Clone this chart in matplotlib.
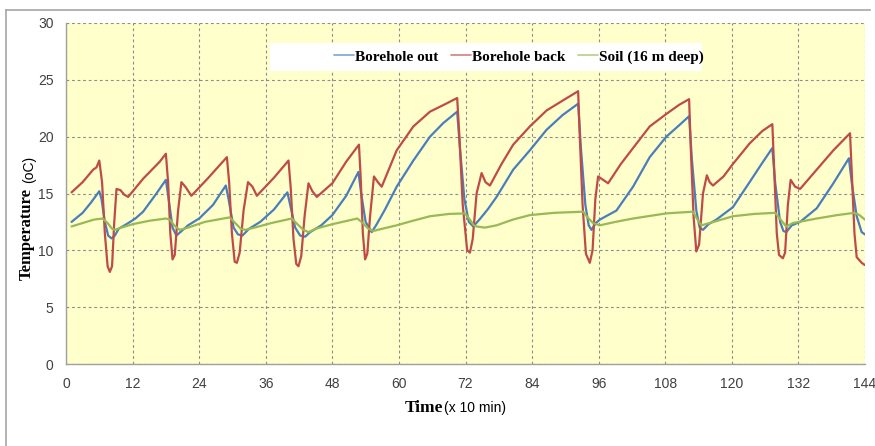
import matplotlib
matplotlib.use('Agg')
import matplotlib.pyplot as plt
from matplotlib.lines import Line2D
from matplotlib.patches import Rectangle

# ---- data (time in x 10 min, temperature in oC) ----
back_t = [1, 3, 4.9, 5.5, 6.0, 6.5, 7.0, 7.5, 7.9, 8.3, 8.7, 9.1, 9.8, 10.5, 11.2,
          13.9, 16.9, 18.0, 18.4, 18.8, 19.2, 19.6, 20.2, 20.8, 21.5, 22.6,
          25.5, 29.0, 29.4, 29.9, 30.4, 30.8, 31.3, 32.0, 32.8, 33.6, 34.4,
          37.5, 40.1, 40.5, 41.0, 41.5, 41.9, 42.4, 43.0, 43.7, 44.4, 45.2,
          48, 50.5, 52.8, 53.1, 53.5, 53.9, 54.3, 54.8, 55.5, 56.2, 56.9,
          59.6, 62.6, 65.6, 68.5, 70.5, 70.9, 71.5, 72.3, 72.8, 73.3, 74.0, 74.9, 75.6, 76.4,
          78.5, 80.6, 83.6, 86.6, 89.6, 92.3, 92.6, 93.1, 93.7, 94.4, 94.9, 95.4, 95.9, 96.8, 97.7,
          100, 102.2, 105.2, 108.2, 110.5, 112.3, 112.6, 113.1, 113.6, 114.1, 114.8, 115.5, 116.0, 116.6,
          118.5, 120.2, 123.2, 125.5, 127.3, 127.6, 128.1, 128.5, 129.2, 129.6, 130.1, 130.6, 131.4, 132.3,
          135.3, 138.3, 141.3, 141.6, 142.1, 142.5, 143.4, 144]
back_v = [15.1, 16.0, 17.1, 17.3, 17.9, 16.0, 11.5, 8.6, 8.1, 8.6, 12.5, 15.4, 15.3, 14.9, 14.7,
          16.3, 17.8, 18.5, 16.0, 11.5, 9.2, 9.6, 13.5, 16.0, 15.6, 14.8,
          16.3, 18.2, 16.0, 11.5, 9.0, 8.9, 9.8, 13.5, 16.0, 15.6, 14.8,
          16.4, 17.9, 15.5, 11.0, 8.8, 8.6, 9.5, 13.0, 15.9, 15.2, 14.7,
          15.9, 17.8, 19.3, 16.5, 11.5, 9.2, 9.7, 13.0, 16.5, 16.0, 15.6,
          18.8, 20.9, 22.2, 22.9, 23.4, 20.0, 14.0, 10.0, 9.8, 11.0, 15.0, 16.8, 16.0, 15.7,
          17.6, 19.3, 20.9, 22.3, 23.2, 24.0, 20.0, 14.0, 9.7, 8.9, 10.0, 14.5, 16.5, 16.2, 15.9,
          17.6, 19.0, 20.9, 22.0, 22.8, 23.3, 19.0, 13.0, 9.9, 10.5, 15.0, 16.6, 16.0, 15.7,
          16.5, 17.6, 19.4, 20.5, 21.1, 17.5, 11.5, 9.6, 9.3, 9.8, 14.0, 16.2, 15.6, 15.4,
          17.1, 18.8, 20.3, 17.0, 11.5, 9.4, 8.9, 8.7]

out_t = [1, 3, 4.5, 6.0, 6.4, 7.0, 7.6, 8.2, 8.8, 9.5, 10.9, 12.5, 13.9, 16.3,
         18.0, 18.5, 19.2, 19.9, 20.6, 22.0, 24, 26.5,
         28.8, 29.3, 30.2, 31.0, 31.8, 33, 35, 37.5,
         39.9, 40.4, 41.3, 42.2, 43.1, 44, 46, 48, 50.5,
         52.7, 53.2, 54.0, 55.1, 56, 57.5, 59.6, 62.6, 65.6, 68,
         70.5, 71.0, 71.8, 72.6, 73.4, 74.5, 76, 77.6, 80.6, 83.6, 86.6, 89.5,
         92.3, 92.8, 93.6, 94.2, 94.7, 95.5, 96.2, 99.2, 102.2, 105.2, 108.2, 110.5,
         112.3, 112.8, 113.6, 114.2, 114.8, 115.8, 117.2, 120.2, 123.2, 125.5,
         127.3, 127.8, 128.7, 129.3, 129.8, 130.8, 132.3, 135.3, 138.3,
         141.1, 141.6, 142.5, 143.4, 144]
out_v = [12.5, 13.3, 14.2, 15.2, 14.5, 12.5, 11.3, 11.05, 11.3, 11.9, 12.3, 12.8, 13.4, 15.0,
         16.2, 14.5, 12.0, 11.3, 11.6, 12.2, 12.8, 14.0,
         15.7, 14.5, 12.0, 11.4, 11.3, 11.9, 12.5, 13.6,
         15.1, 14.0, 12.0, 11.3, 11.2, 11.6, 12.2, 13.1, 14.8,
         16.9, 15.0, 12.5, 11.6, 12.3, 13.6, 15.6, 17.9, 20.0, 21.2,
         22.2, 19.0, 14.5, 12.5, 12.1, 12.7, 13.6, 14.7, 17.1, 18.8, 20.6, 21.9,
         22.9, 19.0, 14.0, 12.2, 11.8, 12.4, 12.7, 13.5, 15.6, 18.2, 20.0, 21.0,
         21.8, 18.0, 13.5, 12.0, 11.8, 12.3, 12.7, 13.8, 16.0, 17.7,
         19.0, 16.0, 12.5, 11.7, 11.6, 12.2, 12.5, 13.7, 15.9,
         18.1, 16.0, 13.0, 11.6, 11.4]

soil_t = [1, 3, 5, 6.6, 7.5, 8.3, 8.8, 10, 12, 15, 18.0, 18.7, 19.5, 20.5, 22, 25,
          29.5, 30.5, 31.5, 32.3, 34, 37, 40.7, 41.7, 42.8, 43.7, 45, 48,
          52.5, 53.5, 54.5, 55.4, 57, 59.6, 62.5, 65.6, 69, 71.9, 72.8, 73.5, 74, 75.5,
          77.6, 80.5, 83.6, 88, 93.2, 94, 95, 96.2, 99, 102.2, 108.2, 113, 113.7, 114.5,
          116, 120.2, 124, 127.8, 128.8, 129.8, 131, 135.3, 139, 142.1, 143, 144]
soil_v = [12.1, 12.4, 12.7, 12.8, 12.4, 11.9, 11.8, 12.0, 12.3, 12.6, 12.8, 12.7, 12.2, 11.8, 12.0, 12.5,
          12.9, 12.4, 11.9, 11.8, 12.0, 12.4, 12.8, 12.3, 11.8, 11.6, 11.9, 12.3,
          12.8, 12.4, 11.9, 11.7, 11.9, 12.2, 12.6, 13.0, 13.2, 13.25, 12.7, 12.2, 12.1, 12.0,
          12.2, 12.7, 13.1, 13.3, 13.4, 12.9, 12.4, 12.2, 12.5, 12.8, 13.25, 13.4, 12.8, 12.2,
          12.4, 13.0, 13.2, 13.3, 12.7, 12.1, 12.4, 12.8, 13.1, 13.3, 13.1, 12.7]

x_ticks = [0, 12, 24, 36, 48, 60, 72, 84, 96, 108, 120, 132, 144]
y_ticks = [0, 5, 10, 15, 20, 25, 30]

W, H = 875, 446
narrow = ['Liberation Sans Narrow', 'Liberation Sans', 'DejaVu Sans']
serif = ['Liberation Serif', 'DejaVu Serif']


def fx(px):
    return px / W


def fy(py):
    return 1 - py / H


fig = plt.figure(figsize=(W / 100, H / 100), dpi=100)
fig.patch.set_facecolor('white')
ax = fig.add_axes([fx(66), fy(364), (865 - 66) / W, (364 - 23) / H])
ax.set_facecolor('#FFFFCC')

style = dict(lw=1.6, solid_joinstyle='round', solid_capstyle='round')
l_out, = ax.plot(out_t, out_v, color='#4A7EBB', label='Borehole out', zorder=3, **style)
l_back, = ax.plot(back_t, back_v, color='#BE4B48', label='Borehole back', zorder=4, **style)
l_soil, = ax.plot(soil_t, soil_v, color='#98B954', label='Soil (16 m deep)', zorder=5, **style)

ax.set_xlim(0, 144)
ax.set_ylim(0, 30)
ax.set_xticks(x_ticks)
ax.set_yticks(y_ticks)
ax.grid(True, color='#8c8c8c', lw=0.8, linestyle=(0, (2.5, 2.5)))
ax.tick_params(length=0, labelsize=10, colors='#404040', pad=9)
for lab in ax.get_xticklabels() + ax.get_yticklabels():
    lab.set_family(narrow)
for s in ['top', 'right']:
    ax.spines[s].set_visible(False)
for s in ['left', 'bottom']:
    ax.spines[s].set_color('#a0a0a0')
    ax.spines[s].set_linewidth(1.0)

# axis labels (mixed fonts)
fig.text(fx(443), fy(408), 'Time', ha='right', va='center', fontsize=12.5,
         fontweight='bold', family=serif)
fig.text(fx(444), fy(408), '(x 10 min)', ha='left', va='center', fontsize=10,
         family=narrow)
fig.text(fx(27), fy(280), 'Temperature', rotation=90, ha='center', va='bottom',
         fontsize=12, fontweight='bold', family=serif)
fig.text(fx(29), fy(183), '(oC)', rotation=90, ha='center', va='bottom',
         fontsize=10, family=narrow)

# legend on a white strip
fig.patches.append(Rectangle((fx(270), fy(71)), (702 - 270) / W, (71 - 43) / H,
                             transform=fig.transFigure, facecolor='white',
                             edgecolor='none', zorder=6))
leg = fig.legend(handles=[l_out, l_back, l_soil], loc='center left',
                 bbox_to_anchor=(fx(334), fy(57)), ncol=3, frameon=False,
                 handlelength=1.3, handletextpad=0.1, columnspacing=0.8,
                 borderpad=0, borderaxespad=0,
                 prop={'family': serif, 'weight': 'bold', 'size': 11})
leg.set_zorder(7)
for ln in leg.get_lines():
    ln.set_linewidth(1.2)
    ln.set_alpha(0.7)

# outer frame of the chart
fig.lines.append(Line2D([fx(6), fx(870)], [fy(10), fy(10)], transform=fig.transFigure,
                        color='#a6a6a6', lw=1.2))
fig.lines.append(Line2D([fx(6), fx(6)], [fy(10), 0], transform=fig.transFigure,
                        color='#a6a6a6', lw=1.2))

fig.savefig('out.png', dpi=100)
